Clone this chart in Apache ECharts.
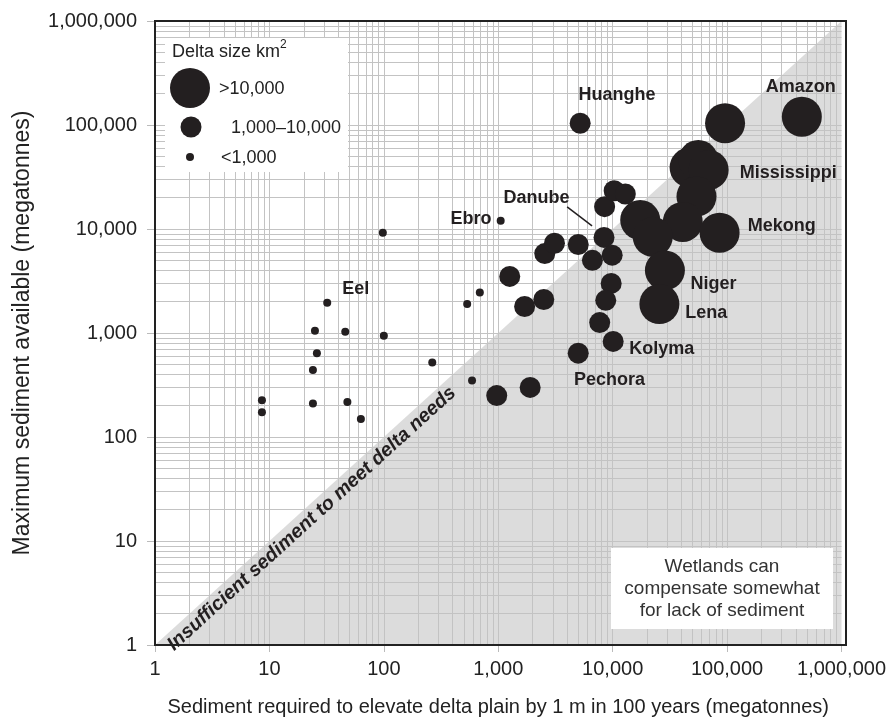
<!DOCTYPE html>
<html>
<head>
<meta charset="utf-8">
<script src="https://cdn.jsdelivr.net/npm/echarts@6/dist/echarts.min.js"></script>
<style>
html, body { margin: 0; padding: 0; background: #fff; }
#chart { width: 889px; height: 722px; }
</style>
</head>
<body>
<div id="chart"></div>
<script>
// [sediment required, max sediment available], megatonnes
let largeDeltas = [
  [450000, 120000], [96000, 104000], [47000, 39000], [56000, 46000], [69000, 37000],
  [54000, 20500], [41000, 11700], [17400, 12200], [22400, 8400], [86000, 9200],
  [28600, 4000], [25600, 1900]
]
let mediumDeltas = [
  [5200, 104000], [1260, 3500], [1700, 1800], [2500, 2100], [2550, 5800], [3100, 7300],
  [5000, 7100], [6650, 5000], [8400, 8300], [9900, 5600], [8500, 16400], [10300, 23300],
  [12900, 21700], [9700, 3000], [8700, 2060], [7700, 1260], [10100, 830], [5000, 640],
  [1900, 300], [970, 250]
]
let smallDeltas = [
  [98, 9200], [32, 1950], [25, 1050], [46, 1030], [100, 940], [26, 640], [24, 440],
  [265, 520], [535, 1900], [690, 2450], [590, 350], [8.6, 225], [8.6, 173], [24, 210],
  [48, 217], [63, 149], [1050, 12000]
]
let labelNames = ['Huanghe', 'Amazon', 'Mississippi', 'Mekong', 'Niger', 'Lena', 'Kolyma', 'Pechora', 'Danube', 'Ebro', 'Eel']
let labelX = [10900, 440000, 343000, 301000, 75900, 65900, 26800, 9380, 2160, 577, 56.8]
let labelY = [194000, 232000, 34500, 10700, 2960, 1560, 702, 353, 19900, 12500, 2650]
let danubeLeader = [[4000, 16300], [6600, 10700]]
let needsLine = [[1, 1], [1000000, 1000000]]
let decades = [1, 10, 100, 1000, 10000, 100000]

let gridLeft = 155, gridTop = 21, gridRight = 846, gridBottom = 645
let ink = '#231f20'
let font = 'Liberation Sans, Arial, sans-serif'

var chart = echarts.init(document.getElementById('chart'))

function fmt(v) {
  return Math.round(v).toLocaleString('en-US')
}

// log grid lines 2..9 per decade, drawn above the shaded area
function gridLines() {
  let lines = []
  decades.forEach(d => {
    for (let m = 1; m <= 9; m++) {
      let v = d * m
      if (v <= 1) continue
      lines.push({ xAxis: v })
      lines.push({ yAxis: v })
    }
  })
  return lines
}

let labelData = labelNames.map((name, i) => ({ name: name, value: [labelX[i], labelY[i]] }))

function legendText(x, y, text) {
  return { type: 'text', z: 100, x: x, y: y, style: { text: text, font: '18px ' + font, fill: '#222', textVerticalAlign: 'middle' } }
}

let options = {
  animation: false,
  grid: {
    left: gridLeft,
    top: gridTop,
    right: 889 - gridRight,
    bottom: 722 - gridBottom
  },
  xAxis: {
    type: 'log',
    logBase: 10,
    min: 1,
    max: 1000000,
    splitLine: { show: false },
    axisLine: { show: false },
    axisTick: { show: true, length: 7, lineStyle: { color: '#bbb' } },
    axisLabel: { fontSize: 20, color: '#222', fontFamily: font, margin: 14, formatter: fmt },
    name: 'Sediment required to elevate delta plain by 1 m in 100 years (megatonnes)',
    nameLocation: 'middle',
    nameGap: 52,
    nameTextStyle: { fontSize: 20, color: '#222', fontFamily: font }
  },
  yAxis: {
    type: 'log',
    logBase: 10,
    min: 1,
    max: 1000000,
    splitLine: { show: false },
    axisLine: { show: false },
    axisTick: { show: true, length: 8, lineStyle: { color: '#bbb' } },
    axisLabel: { fontSize: 20, color: '#222', fontFamily: font, margin: 18, formatter: fmt },
    name: 'Maximum sediment available (megatonnes)',
    nameLocation: 'middle',
    nameGap: 121,
    nameTextStyle: { fontSize: 23, color: '#222', fontFamily: font }
  },
  series: [
    {
      name: 'needs',
      type: 'line',
      data: needsLine,
      symbol: 'none',
      lineStyle: { width: 0 },
      areaStyle: { color: '#dcdcdc', opacity: 1, origin: 'start' },
      z: 1,
      silent: true
    },
    {
      name: 'grid',
      type: 'line',
      data: [],
      z: 2,
      silent: true,
      markLine: {
        z: 2,
        silent: true,
        symbol: 'none',
        label: { show: false },
        lineStyle: { color: '#c3c3c3', width: 1, type: 'solid' },
        data: gridLines()
      }
    },
    {
      name: 'needsLabel',
      type: 'line',
      data: [],
      z: 12,
      silent: true,
      markLine: {
        z: 12,
        silent: true,
        symbol: 'none',
        lineStyle: { width: 0 },
        label: {
          show: true,
          position: 'insideStartBottom',
          distance: [10, 2],
          formatter: 'Insufficient sediment to meet delta needs',
          fontSize: 19.5,
          fontWeight: 'bold',
          fontStyle: 'italic',
          color: ink,
          fontFamily: font
        },
        data: [[{ coord: needsLine[0] }, { coord: needsLine[1] }]]
      }
    },
    {
      name: 'large',
      type: 'scatter',
      data: largeDeltas,
      symbolSize: 40,
      itemStyle: { color: ink, opacity: 1 },
      z: 10
    },
    {
      name: 'medium',
      type: 'scatter',
      data: mediumDeltas,
      symbolSize: 21,
      itemStyle: { color: ink, opacity: 1 },
      z: 10,
      markLine: {
        z: 10,
        silent: true,
        symbol: 'none',
        label: { show: false },
        lineStyle: { color: ink, width: 1.5, type: 'solid' },
        data: [[{ coord: danubeLeader[0] }, { coord: danubeLeader[1] }]]
      }
    },
    {
      name: 'small',
      type: 'scatter',
      data: smallDeltas,
      symbolSize: 8,
      itemStyle: { color: ink, opacity: 1 },
      z: 10
    },
    {
      name: 'labels',
      type: 'scatter',
      data: labelData,
      symbolSize: 0,
      z: 12,
      itemStyle: { opacity: 1 },
      label: {
        show: true,
        position: 'inside',
        formatter: '{b}',
        fontSize: 18,
        fontWeight: 'bold',
        color: ink,
        fontFamily: font
      }
    }
  ],
  graphic: [
    {
      type: 'rect',
      z: 200,
      shape: { x: gridLeft, y: gridTop, width: gridRight - gridLeft, height: gridBottom - gridTop },
      style: { fill: 'none', stroke: '#222', lineWidth: 2 }
    },
    // size legend
    { type: 'rect', z: 90, shape: { x: 165, y: 38, width: 183, height: 134 }, style: { fill: '#fff' } },
    legendText(172, 52, 'Delta size km'),
    { type: 'text', z: 100, x: 280, y: 45, style: { text: '2', font: '12px ' + font, fill: '#222', textVerticalAlign: 'middle' } },
    { type: 'circle', z: 100, shape: { cx: 190, cy: 88, r: 20 }, style: { fill: ink } },
    legendText(219, 89, '>10,000'),
    { type: 'circle', z: 100, shape: { cx: 191, cy: 127, r: 10.5 }, style: { fill: ink } },
    legendText(231, 128, '1,000–10,000'),
    { type: 'circle', z: 100, shape: { cx: 190, cy: 157, r: 4 }, style: { fill: ink } },
    legendText(221, 158, '<1,000'),
    // wetlands note
    { type: 'rect', z: 90, shape: { x: 611, y: 548, width: 222, height: 81 }, style: { fill: '#fff' } },
    {
      type: 'text', z: 100, x: 722, y: 589,
      style: {
        text: 'Wetlands can\ncompensate somewhat\nfor lack of sediment',
        font: '19px ' + font, fill: '#333', lineHeight: 22,
        textAlign: 'center', textVerticalAlign: 'middle'
      }
    }
  ]
}

chart.setOption(options)
</script>
</body>
</html>
